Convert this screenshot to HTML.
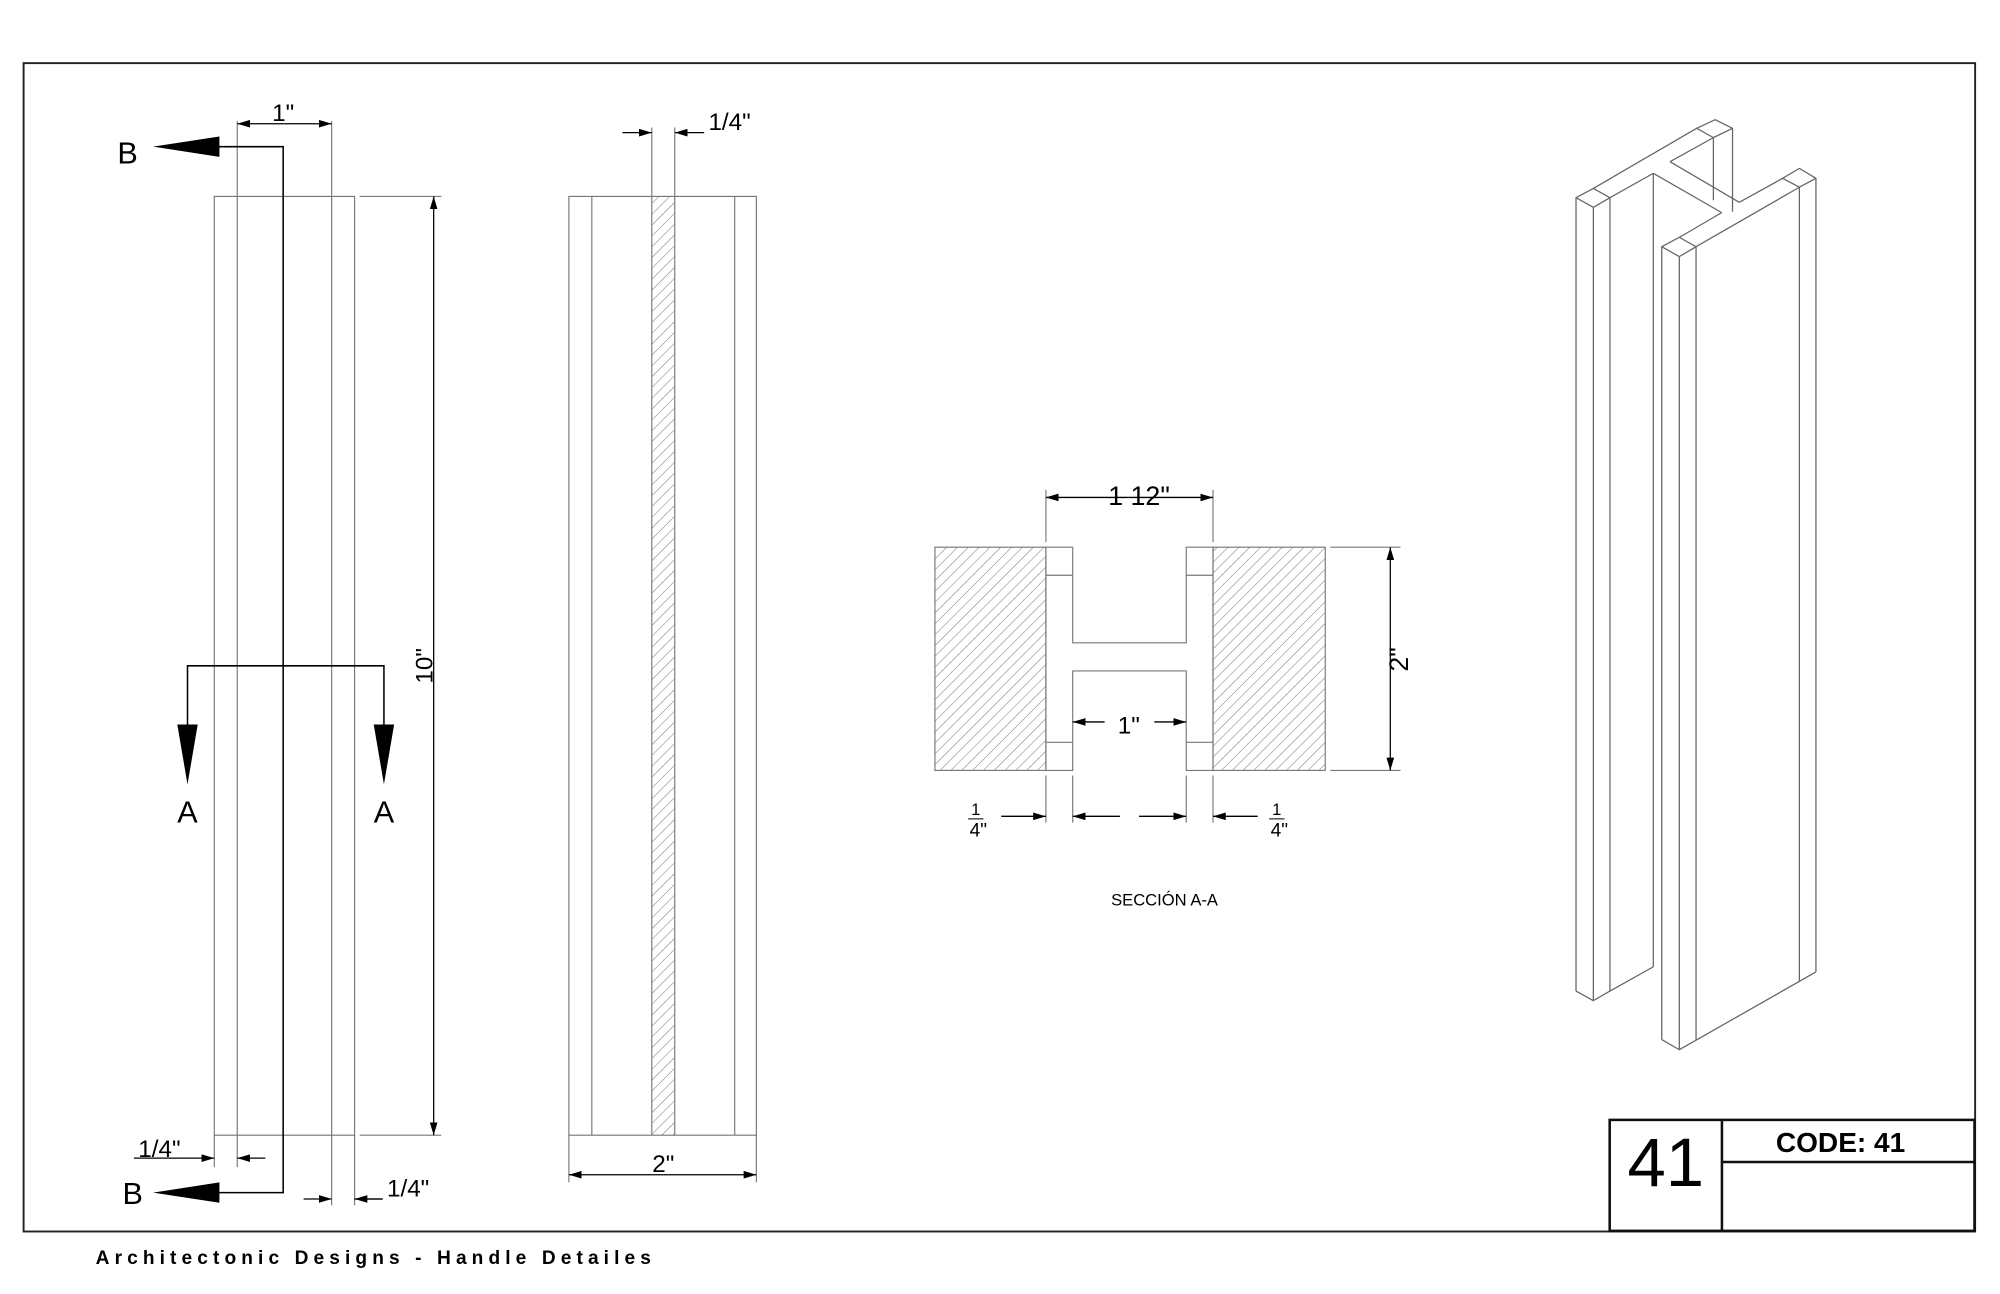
<!DOCTYPE html>
<html><head><meta charset="utf-8"><style>
html,body{margin:0;padding:0;background:#fff;}
svg{display:block;}
text{font-family:"Liberation Sans",sans-serif;fill:#000;}
</style></head><body>
<svg width="2000" height="1294" viewBox="0 0 1568 1014.5" xmlns="http://www.w3.org/2000/svg">
<defs>
<pattern id="h" patternUnits="userSpaceOnUse" width="6" height="6" patternTransform="rotate(45)">
<line x1="0" y1="0" x2="0" y2="6" stroke="#777" stroke-width="0.8"/>
</pattern>
<marker id="ar" viewBox="0 0 10 6" refX="10" refY="3" markerWidth="10" markerHeight="6" markerUnits="userSpaceOnUse" orient="auto"><path d="M0,0L10,3L0,6z" fill="#000"/></marker>
</defs>
<rect width="1568" height="1015" fill="#fff"/>
<rect x="18.5" y="49.5" width="1530" height="916" fill="none" stroke="#222" stroke-width="1.5"/>

<g stroke="#777" stroke-width="0.9" fill="none">
<rect x="168" y="154" width="110" height="736"/>
<line x1="186" y1="154" x2="186" y2="890"/><line x1="260" y1="154" x2="260" y2="890"/>
<line x1="186" y1="95" x2="186" y2="154"/><line x1="260" y1="95" x2="260" y2="154"/>
<line x1="282" y1="154" x2="346" y2="154"/><line x1="282" y1="890" x2="346" y2="890"/>
<line x1="168" y1="890" x2="168" y2="915"/><line x1="186" y1="890" x2="186" y2="915"/>
<line x1="260" y1="890" x2="260" y2="945"/><line x1="278" y1="890" x2="278" y2="945"/>
</g>
<g stroke="#000" stroke-width="1" fill="none">
<line x1="222" y1="97" x2="186" y2="97" marker-end="url(#ar)"/>
<line x1="222" y1="97" x2="260" y2="97" marker-end="url(#ar)"/>
<line x1="340" y1="522" x2="340" y2="154" marker-end="url(#ar)"/>
<line x1="340" y1="522" x2="340" y2="890" marker-end="url(#ar)"/>
<line x1="145" y1="908" x2="168" y2="908" marker-end="url(#ar)"/>
<line x1="208" y1="908" x2="186" y2="908" marker-end="url(#ar)"/>
<line x1="238" y1="940" x2="260" y2="940" marker-end="url(#ar)"/>
<line x1="300" y1="940" x2="278" y2="940" marker-end="url(#ar)"/>
<line x1="105" y1="908" x2="145" y2="908"/>
<line x1="278" y1="940" x2="300" y2="940"/>
<polyline points="170,115 222,115 222,935 170,935" stroke-width="1.2"/>
<polyline points="147,570 147,522 301,522 301,570" stroke-width="1.2"/>
</g>
<path d="M120,115L172,107L172,123z" fill="#000"/>
<path d="M120,935L172,927L172,943z" fill="#000"/>
<path d="M147,615L139,568L155,568z" fill="#000"/>
<path d="M301,615L293,568L309,568z" fill="#000"/>
<text x="100" y="128" font-size="24" text-anchor="middle">B</text>
<text x="104" y="944" font-size="24" text-anchor="middle">B</text>
<text x="147" y="645" font-size="24" text-anchor="middle">A</text>
<text x="301" y="645" font-size="24" text-anchor="middle">A</text>
<text x="222" y="95" font-size="19" text-anchor="middle">1"</text>
<text x="125" y="907" font-size="19" text-anchor="middle">1/4"</text>
<text x="320" y="938" font-size="19" text-anchor="middle">1/4"</text>
<text transform="translate(339,522) rotate(-90)" font-size="19" text-anchor="middle">10"</text>

<rect x="511" y="154" width="18" height="736" fill="url(#h)"/>
<g stroke="#777" stroke-width="0.9" fill="none">
<rect x="446" y="154" width="147" height="736"/>
<line x1="464" y1="154" x2="464" y2="890"/><line x1="576" y1="154" x2="576" y2="890"/>
<line x1="511" y1="100" x2="511" y2="890"/><line x1="529" y1="100" x2="529" y2="890"/>
<line x1="446" y1="890" x2="446" y2="927"/><line x1="593" y1="890" x2="593" y2="927"/>
</g>
<g stroke="#000" stroke-width="1" fill="none">
<line x1="488" y1="104" x2="511" y2="104" marker-end="url(#ar)"/>
<line x1="552" y1="104" x2="529" y2="104" marker-end="url(#ar)"/>
<line x1="520" y1="921" x2="446" y2="921" marker-end="url(#ar)"/>
<line x1="520" y1="921" x2="593" y2="921" marker-end="url(#ar)"/>
</g>
<text x="572" y="102" font-size="19" text-anchor="middle">1/4"</text>
<text x="520" y="919" font-size="19" text-anchor="middle">2"</text>

<rect x="733" y="429" width="87" height="175" fill="url(#h)" stroke="#777" stroke-width="0.9"/>
<rect x="951" y="429" width="88" height="175" fill="url(#h)" stroke="#777" stroke-width="0.9"/>
<g stroke="#777" stroke-width="0.9" fill="none">
<path d="M820,429H841V504H930V429H951V604H930V526H841V604H820z"/>
<line x1="820" y1="451" x2="841" y2="451"/><line x1="930" y1="451" x2="951" y2="451"/>
<line x1="820" y1="582" x2="841" y2="582"/><line x1="930" y1="582" x2="951" y2="582"/>
<line x1="820" y1="384" x2="820" y2="425"/><line x1="951" y1="384" x2="951" y2="425"/>
<line x1="1043" y1="429" x2="1098" y2="429"/><line x1="1043" y1="604" x2="1098" y2="604"/>
<line x1="820" y1="608" x2="820" y2="645"/><line x1="841" y1="608" x2="841" y2="645"/>
<line x1="930" y1="608" x2="930" y2="645"/><line x1="951" y1="608" x2="951" y2="645"/>
</g>
<g stroke="#000" stroke-width="1" fill="none">
<line x1="885" y1="390" x2="820" y2="390" marker-end="url(#ar)"/>
<line x1="885" y1="390" x2="951" y2="390" marker-end="url(#ar)"/>
<line x1="866" y1="566" x2="841" y2="566" marker-end="url(#ar)"/>
<line x1="905" y1="566" x2="930" y2="566" marker-end="url(#ar)"/>
<line x1="1090" y1="517" x2="1090" y2="429" marker-end="url(#ar)"/>
<line x1="1090" y1="517" x2="1090" y2="604" marker-end="url(#ar)"/>
<line x1="785" y1="640" x2="820" y2="640" marker-end="url(#ar)"/>
<line x1="878" y1="640" x2="841" y2="640" marker-end="url(#ar)"/>
<line x1="893" y1="640" x2="930" y2="640" marker-end="url(#ar)"/>
<line x1="986" y1="640" x2="951" y2="640" marker-end="url(#ar)"/>
</g>
<text x="893" y="396" font-size="21" text-anchor="middle">1 12"</text>
<text x="885" y="575" font-size="19" text-anchor="middle">1"</text>
<text transform="translate(1104,517) rotate(-90)" font-size="21" text-anchor="middle">2"</text>
<text x="765" y="639" font-size="13" text-anchor="middle">1</text>
<line x1="759" y1="642" x2="771" y2="642" stroke="#000" stroke-width="0.8"/>
<text x="767" y="656" font-size="15" text-anchor="middle">4"</text>
<text x="1001" y="639" font-size="13" text-anchor="middle">1</text>
<line x1="995" y1="642" x2="1007" y2="642" stroke="#000" stroke-width="0.8"/>
<text x="1003" y="656" font-size="15" text-anchor="middle">4"</text>
<text x="913" y="710" font-size="13" text-anchor="middle">SECCIÓN A-A</text>

<g stroke="#666" stroke-width="1" fill="none" stroke-linejoin="round">
<path d="M1235.6,155L1249.2,147.7L1262.2,155L1249.2,162.5Z"/>
<path d="M1344.7,93.8L1358.3,100.6L1343.3,107.9L1330.2,100.6Z"/>
<line x1="1249.2" y1="147.7" x2="1330.2" y2="100.6"/>
<line x1="1262.2" y1="155" x2="1296.2" y2="135.9"/>
<line x1="1296.2" y1="135.9" x2="1349.8" y2="166.7"/>
<line x1="1349.8" y1="166.7" x2="1316.6" y2="186.1"/>
<line x1="1309.3" y1="126.8" x2="1343.3" y2="107.9"/>
<line x1="1309.3" y1="126.8" x2="1363.6" y2="158.6"/>
<line x1="1363.6" y1="158.6" x2="1397.6" y2="139.8"/>
<path d="M1302.8,193.4L1316.6,186.1L1329.7,193.4L1316.6,201.2Z"/>
<path d="M1397.6,139.8L1410.7,132L1423.7,139.8L1410.7,146.8Z"/>
<line x1="1329.7" y1="193.4" x2="1410.7" y2="146.8"/>
<line x1="1343.3" y1="107.9" x2="1343.3" y2="157"/>
<line x1="1358.3" y1="100.6" x2="1358.3" y2="166"/>
<line x1="1235.6" y1="155" x2="1235.6" y2="777"/>
<line x1="1249.2" y1="162.5" x2="1249.2" y2="784.5"/>
<line x1="1262.2" y1="155" x2="1262.2" y2="777"/>
<path d="M1235.6,777L1249.2,784.5L1262.2,777"/>
<line x1="1262.2" y1="777" x2="1296.2" y2="758"/>
<line x1="1296.2" y1="135.9" x2="1296.2" y2="758"/>
<line x1="1302.8" y1="193.4" x2="1302.8" y2="815"/>
<line x1="1316.6" y1="201.2" x2="1316.6" y2="823"/>
<line x1="1329.7" y1="193.4" x2="1329.7" y2="815"/>
<line x1="1410.7" y1="146.8" x2="1410.7" y2="769"/>
<line x1="1423.7" y1="139.8" x2="1423.7" y2="762"/>
<path d="M1302.8,815L1316.6,823L1423.7,762"/>
</g>

<g stroke="#111" stroke-width="2" fill="none">
<rect x="1262" y="878" width="286" height="87"/>
<line x1="1350" y1="878" x2="1350" y2="965"/>
<line x1="1350" y1="911" x2="1548" y2="911"/>
</g>
<text x="1306" y="930" font-size="54" text-anchor="middle">41</text>
<text x="1443" y="903" font-size="22" font-weight="bold" text-anchor="middle">CODE: 41</text>
<text x="75" y="991" font-size="15" font-weight="bold" letter-spacing="4">Architectonic Designs - Handle Detailes</text>
</svg>
</body></html>
